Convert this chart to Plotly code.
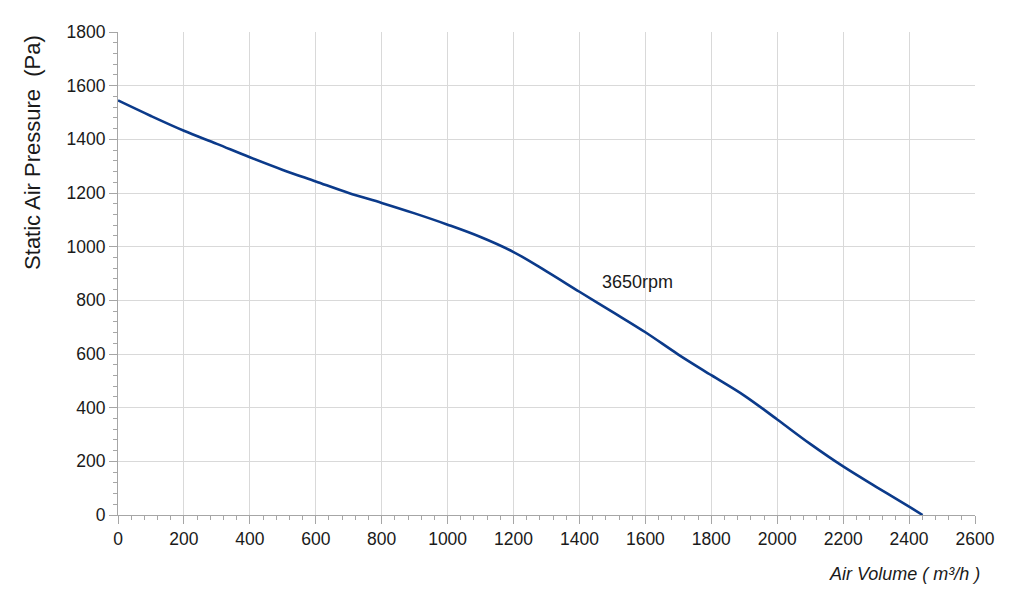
import plotly.graph_objects as go

# fan curve
air_volume = [0, 100, 200, 300, 400, 500, 600, 700, 800, 900, 1000, 1100, 1200,
              1300, 1400, 1500, 1600, 1700, 1800, 1900, 2000, 2100, 2200, 2300,
              2400, 2441]
pressure = [1545, 1487, 1432, 1383, 1333, 1286, 1243, 1200, 1163, 1124, 1082, 1036, 980,
            908, 832, 757, 681, 598, 521, 445, 356, 265, 181, 105,
            31, 0]
speed_label = "3650rpm"

font_name = "Liberation Sans, Arial, sans-serif"

fig = go.Figure()
fig.add_trace(go.Scatter(
    x=air_volume,
    y=pressure,
    mode="lines",
    line={"color": "#0b3a8a", "width": 2.6, "shape": "spline", "smoothing": 1.0},
    showlegend=False
))

axis_common = dict(
    showline=True,
    linecolor="#a6a6a6",
    linewidth=1,
    showgrid=True,
    gridcolor="#d9d9d9",
    gridwidth=1,
    zeroline=False,
    ticks="outside",
    ticklen=8,
    tickcolor="#a6a6a6",
    tickfont={"family": font_name, "size": 17.5, "color": "#1a1a1a"},
)

fig.update_xaxes(
    range=[0, 2600], dtick=200, tick0=0,
    minor={"dtick": 40, "ticks": "outside", "ticklen": 4, "tickcolor": "#a6a6a6", "showgrid": False},
    **axis_common
)
fig.update_yaxes(
    range=[0, 1800], dtick=200, tick0=0,
    minor={"dtick": 40, "ticks": "outside", "ticklen": 4, "tickcolor": "#a6a6a6", "showgrid": False},
    **axis_common
)

fig.add_annotation(
    x=1462, y=867, xref="x", yref="y", text=speed_label, showarrow=False,
    xanchor="left", yanchor="middle",
    font={"family": font_name, "size": 18, "color": "#1a1a1a"}
)
fig.add_annotation(
    x=1.008, y=-0.122, xref="paper", yref="paper", text="<i>Air Volume ( m³/h )</i>",
    showarrow=False, xanchor="right", yanchor="middle",
    font={"family": font_name, "size": 18, "color": "#1a1a1a"}
)
fig.add_annotation(
    x=-0.099, y=0.75, xref="paper", yref="paper", text="Static Air Pressure  (Pa)",
    showarrow=False, textangle=-90, xanchor="center", yanchor="middle",
    font={"family": font_name, "size": 22, "color": "#1a1a1a"}
)

fig.update_layout(
    width=1024, height=610,
    margin={"l": 110, "r": 57, "t": 24, "b": 103},
    plot_bgcolor="white",
    paper_bgcolor="white",
)

fig.write_html("out.html")
